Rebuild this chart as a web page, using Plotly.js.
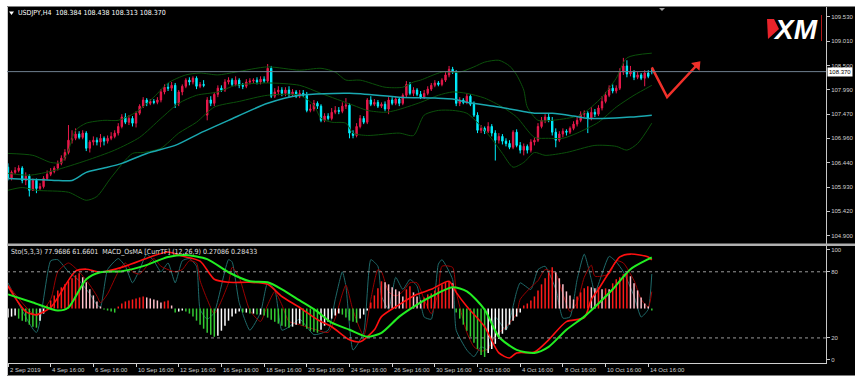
<!DOCTYPE html>
<html><head><meta charset="utf-8">
<script src="https://cdn.plot.ly/plotly-3.0.1.min.js"></script>
<style>html,body{margin:0;padding:0;background:#fff;}#chart{width:861px;height:385px;}</style>
</head><body><div id="chart"></div>
<script>
// ---------------- DATA ----------------
const symbolTitle = "\u00a0USDJPY,H4\u00a0\u00a0108.384 108.438 108.313 108.370";
const subTitle = "Sto(5,3,3) 77.9686 61.6601\u00a0\u00a0MACD_OsMA [CurrTF] (12,26,9) 0.27086 0.28433";
const timeLabels = ['2 Sep 2019','4 Sep 16:00','6 Sep 16:00','10 Sep 16:00','12 Sep 16:00','16 Sep 16:00','18 Sep 16:00','20 Sep 16:00','24 Sep 16:00','26 Sep 16:00','30 Sep 16:00','2 Oct 16:00','4 Oct 16:00','8 Oct 16:00','10 Oct 16:00','14 Oct 16:00'];
const priceTicks = [104.900,105.420,105.930,106.440,106.960,107.470,107.990,108.500,109.010,109.530];
const oscTicks = [0,20,80,100];

const openP = [106.35,106.11,106.24,106.28,106.33,106.07,106.16,105.86,106.07,105.90,
105.94,106.11,106.20,106.26,106.33,106.43,106.54,106.66,106.92,106.96,
107.05,106.98,107.07,106.75,106.88,106.92,106.88,106.96,106.90,106.96,
107.00,107.07,107.21,107.41,107.30,107.38,107.28,107.49,107.64,107.77,
107.70,107.74,107.72,107.77,107.94,108.04,108.02,108.08,107.70,107.94,
108.06,108.19,108.15,108.23,108.06,108.10,107.45,107.77,107.70,107.89,
108.02,107.98,108.15,108.19,108.10,108.19,108.08,108.06,108.15,108.17,
108.19,108.15,108.21,108.17,108.44,107.85,107.94,107.98,107.91,107.98,
107.89,107.94,107.85,107.91,107.87,107.55,107.58,107.70,107.64,107.34,
107.43,107.38,107.51,107.55,107.53,107.64,107.66,107.07,107.02,107.21,
107.38,107.30,107.77,107.68,107.72,107.64,107.68,107.58,107.77,107.70,
107.79,107.70,107.87,108.10,107.91,107.98,107.89,107.83,107.91,108.00,
108.08,108.13,108.10,108.19,108.30,108.42,108.36,107.70,107.77,107.72,
107.85,107.68,107.45,107.13,107.17,107.11,107.21,107.07,106.92,107.00,
106.90,106.85,106.77,107.09,106.81,106.71,106.79,106.71,106.88,106.92,
107.21,107.34,107.41,107.34,107.09,106.92,107.05,107.11,107.09,107.17,
107.26,107.34,107.47,107.49,107.38,107.51,107.47,107.60,107.74,107.87,
108.02,107.96,108.02,108.36,108.49,108.32,108.36,108.25,108.30,108.23,
108.34,108.384];
const highP = [106.43,106.28,106.35,106.39,106.37,106.24,106.20,106.11,106.11,106.01,
106.16,106.28,106.33,106.37,106.49,106.60,106.73,107.24,107.13,107.17,
107.11,107.13,107.11,106.92,107.00,106.98,107.05,107.00,107.02,107.09,
107.13,107.28,107.47,107.49,107.45,107.43,107.53,107.68,107.83,107.81,
107.79,107.79,107.83,108.00,108.10,108.13,108.15,108.13,107.98,108.10,
108.23,108.25,108.27,108.27,108.15,108.19,107.83,107.85,107.94,108.08,
108.08,108.21,108.25,108.23,108.27,108.23,108.13,108.21,108.23,108.23,
108.25,108.27,108.27,108.53,108.49,108.02,108.06,108.04,108.04,108.06,
108.00,107.98,107.98,107.98,107.94,107.68,107.77,107.74,107.68,107.49,
107.49,107.60,107.64,107.62,107.72,107.81,107.70,107.13,107.28,107.45,
107.43,107.81,107.85,107.79,107.77,107.72,107.74,107.83,107.83,107.85,
107.83,107.91,108.17,108.15,108.04,108.02,107.96,107.98,108.06,108.13,
108.19,108.17,108.23,108.36,108.49,108.47,108.40,107.83,107.81,107.91,
107.89,107.74,107.51,107.24,107.21,107.30,107.26,107.13,107.07,107.05,
106.96,106.92,107.13,107.15,106.88,106.85,106.83,106.94,106.98,107.28,
107.41,107.47,107.49,107.41,107.17,107.11,107.17,107.15,107.21,107.32,
107.41,107.53,107.55,107.53,107.62,107.58,107.66,107.85,107.94,108.08,
108.10,108.08,108.44,108.66,108.61,108.49,108.40,108.36,108.34,108.40,
108.40,108.438];
const lowP = [106.07,106.07,106.20,106.24,106.01,105.97,105.73,105.86,105.80,105.86,
105.90,106.07,106.16,106.22,106.28,106.39,106.49,106.62,106.85,106.92,
106.94,106.94,106.69,106.66,106.81,106.81,106.77,106.81,106.85,106.92,
106.96,107.02,107.17,107.26,107.24,107.21,107.19,107.45,107.60,107.64,
107.66,107.68,107.68,107.72,107.89,107.96,107.96,107.60,107.64,107.87,
108.02,108.08,108.10,108.00,108.02,108.04,107.34,107.64,107.64,107.83,
107.94,107.94,108.10,108.06,108.06,108.02,108.00,108.02,108.10,108.13,
108.10,108.10,108.13,108.13,107.81,107.81,107.87,107.85,107.85,107.83,
107.85,107.81,107.81,107.83,107.51,107.51,107.53,107.58,107.30,107.30,
107.34,107.34,107.47,107.47,107.49,107.58,106.96,106.96,106.98,107.17,
107.26,107.26,107.64,107.64,107.60,107.60,107.53,107.47,107.66,107.66,
107.64,107.66,107.83,107.87,107.85,107.85,107.79,107.79,107.87,107.96,
108.04,108.06,108.06,108.15,108.25,108.32,107.64,107.64,107.68,107.68,
107.64,107.41,107.07,107.07,107.05,107.07,107.00,106.49,106.85,106.83,
106.79,106.73,106.73,106.77,106.64,106.60,106.64,106.66,106.81,106.88,
107.17,107.28,107.30,107.02,106.77,106.88,106.98,107.02,107.05,107.13,
107.21,107.30,107.41,107.07,107.34,107.41,107.43,107.55,107.70,107.83,
107.91,107.91,107.98,108.30,108.25,108.27,108.19,108.21,108.19,108.06,
108.23,108.313];
const closeP = [106.11,106.24,106.28,106.33,106.07,106.16,105.86,106.07,105.90,105.94,
106.11,106.20,106.26,106.33,106.43,106.54,106.66,106.92,106.96,107.05,
106.98,107.07,106.75,106.88,106.92,106.88,106.96,106.90,106.96,107.00,
107.07,107.21,107.41,107.30,107.38,107.28,107.49,107.64,107.77,107.70,
107.74,107.72,107.77,107.94,108.04,108.02,108.08,107.70,107.94,108.06,
108.19,108.15,108.23,108.06,108.10,108.08,107.77,107.70,107.89,108.02,
107.98,108.15,108.19,108.10,108.19,108.08,108.06,108.15,108.17,108.19,
108.15,108.21,108.17,108.44,107.85,107.94,107.98,107.91,107.98,107.89,
107.94,107.85,107.91,107.87,107.55,107.58,107.70,107.64,107.34,107.43,
107.38,107.51,107.55,107.53,107.64,107.66,107.07,107.02,107.21,107.38,
107.30,107.77,107.68,107.72,107.64,107.68,107.58,107.77,107.70,107.79,
107.70,107.87,108.10,107.91,107.98,107.89,107.83,107.91,108.00,108.08,
108.13,108.10,108.19,108.30,108.42,108.36,107.70,107.77,107.72,107.85,
107.68,107.45,107.13,107.17,107.11,107.21,107.07,106.92,107.00,106.90,
106.85,106.77,107.09,106.81,106.71,106.79,106.71,106.88,106.92,107.21,
107.34,107.41,107.34,107.09,106.92,107.05,107.11,107.09,107.17,107.26,
107.34,107.47,107.49,107.38,107.51,107.47,107.60,107.74,107.87,108.02,
107.96,108.02,108.36,108.49,108.32,108.36,108.25,108.30,108.23,108.34,
108.27,108.370];

// Moving average (cyan) and Bollinger bands (sampled at bar indices)
const maX = [0,6,13,18,22,27,32,39,47,54,62,73,82,96,110,120,125,129,138,148,153,159,163,167,175,181];
const maV = [106.11,106.09,106.07,106.07,106.24,106.33,106.43,106.64,106.81,107.07,107.34,107.70,107.87,107.91,107.83,107.81,107.79,107.72,107.62,107.49,107.49,107.43,107.38,107.38,107.41,107.45];
const bbUpX = [0,7,12,15,17,19,22,27,31,36,41,45,50,54,59,64,73,82,88,92,95,99,106,111,114,116,122,127,131,134,138,141,143,145,146,149,153,157,161,167,171,174,181];
const bbUpV = [106.64,106.60,106.45,106.45,106.71,107.13,107.28,107.34,107.34,107.51,107.83,108.13,108.30,108.34,108.30,108.36,108.47,108.40,108.44,108.36,108.19,108.19,108.04,108.04,108.15,108.19,108.36,108.36,108.47,108.57,108.61,108.49,108.30,107.98,107.62,107.34,107.34,107.38,107.45,107.83,108.23,108.66,108.76];
const bbMidX = [0,6,13,22,30,37,43,48,53,59,64,73,82,88,97,101,106,109,116,121,125,129,134,139,143,148,152,156,160,166,171,176,181];
const bbMidV = [106.22,106.18,106.28,106.49,106.71,106.98,107.38,107.70,107.87,107.94,108.08,108.13,108.08,107.91,107.66,107.55,107.51,107.55,107.72,107.87,107.94,107.91,107.81,107.62,107.41,106.98,106.96,106.96,107.07,107.30,107.62,107.87,108.08];
const bbLoX = [0,4,8,17,22,25,29,35,38,43,48,53,58,65,73,82,86,88,91,95,97,101,110,114,117,121,125,129,134,137,139,142,145,148,151,157,165,171,174,177,181];
const bbLoV = [105.86,105.92,105.86,105.82,105.65,105.73,106.13,106.64,106.66,106.75,107.07,107.30,107.62,107.74,107.87,107.87,107.66,107.38,107.30,107.28,107.07,107.02,107.07,107.02,107.45,107.55,107.55,107.49,107.13,106.85,106.64,106.35,106.45,106.66,106.60,106.66,106.81,106.79,106.71,106.85,107.28];

// Forecast arrow (bar index, price)
const arrowX = [181,185.3,193.7];
const arrowP = [108.46,107.83,108.51];

// Stochastic (5,3,3)
const stoX = [0,8,12,14,17,20,23,25,26,28,31,33,35,37,39,41,43,45,47,49,51,53,54,56,58,62,63,65,68,71,73,75,77,79,82,86,90,92,94,95,97,100,102,104,105,107,109,111,113,115,117,119,121,122,125,126,129,131,133,135,137,140,143,144,147,149,151,154,156,158,160,162,164,165,169,171,173,176,178,180,181];
const stoMain = [70,25,90,91,80,72,60,50,48,82,92,85,70,82,96,90,80,88,70,90,92,85,46,37,43,91,89,52,27,43,70,64,27,30,37,23,27,55,80,67,9,25,91,85,58,46,75,64,73,67,39,37,87,91,73,27,9,3,12,9,39,27,62,70,64,82,85,64,38,39,73,96,73,61,94,89,80,58,39,46,78];
const stoSig = [68,40,55,80,88,80,68,58,52,60,80,88,80,78,85,92,85,82,80,82,90,88,72,55,42,70,84,75,45,35,50,62,50,35,32,28,25,38,60,68,45,22,55,82,80,62,58,62,70,70,55,42,62,85,84,62,25,12,8,10,22,30,42,55,66,72,82,78,60,44,52,75,86,76,78,90,88,72,55,48,62];

// MACD OsMA (12,26,9)
const macdX = [0,5,8,12,19,22,26,33,40,45,49,54,58,62,68,73,77,82,87,91,96,99,103,105,110,115,119,124,126,129,134,138,141,143,148,152,157,162,164,166,169,172,175,180,181];
const macdMain = [0.124,-0.017,-0.034,0.006,0.208,0.219,0.202,0.236,0.287,0.315,0.292,0.264,0.163,0.146,0.146,0.135,0.067,0.006,-0.062,-0.101,-0.174,-0.185,-0.118,-0.045,0.022,0.079,0.107,0.152,0.090,0.011,-0.101,-0.247,-0.275,-0.247,-0.242,-0.174,-0.073,-0.051,0.051,0.107,0.202,0.287,0.303,0.287,0.271];
const sigX = [0,7,14,17,22,26,32,38,45,50,56,62,68,73,77,82,87,91,96,101,105,110,115,119,125,129,134,138,143,148,152,157,162,166,170,175,180,181];
const macdSig = [0.079,0.034,-0.011,0.006,0.163,0.202,0.208,0.236,0.287,0.298,0.275,0.202,0.152,0.146,0.107,0.045,-0.017,-0.079,-0.118,-0.157,-0.135,-0.045,0.022,0.067,0.118,0.096,-0.006,-0.157,-0.230,-0.247,-0.213,-0.118,-0.045,0.028,0.107,0.219,0.275,0.284];
const osma = [-0.009,-0.008,-0.007,-0.010,-0.012,-0.013,-0.016,-0.018,-0.019,-0.012,
-0.005,0.003,0.008,0.013,0.018,0.021,0.024,0.027,0.030,0.033,
0.035,0.031,0.026,0.019,0.013,0.007,0.002,-0.001,-0.002,-0.003,
-0.004,0.002,0.005,0.007,0.008,0.009,0.010,0.011,0.012,0.011,
0.010,0.009,0.008,0.006,0.007,0.008,0.003,-0.004,-0.003,-0.002,
-0.003,-0.005,-0.008,-0.012,-0.016,-0.020,-0.024,-0.026,-0.028,-0.027,
-0.022,-0.017,-0.012,-0.008,-0.005,-0.003,-0.004,-0.004,-0.005,-0.005,
-0.006,-0.006,-0.007,-0.009,-0.011,-0.013,-0.015,-0.017,-0.018,-0.019,
-0.018,-0.016,-0.015,-0.017,-0.020,-0.022,-0.023,-0.024,-0.021,-0.017,
-0.013,-0.010,-0.007,-0.005,-0.006,-0.009,-0.012,-0.013,-0.014,-0.010,
-0.006,-0.002,0.006,0.013,0.020,0.027,0.026,0.024,0.021,0.019,
0.017,0.012,0.019,0.022,0.016,0.012,0.008,0.011,0.014,0.015,
0.018,0.021,0.024,0.026,0.027,0.025,-0.004,-0.010,-0.016,-0.022,
-0.028,-0.034,-0.040,-0.046,-0.048,-0.044,-0.040,-0.035,-0.030,-0.025,
-0.021,-0.016,-0.012,-0.008,-0.004,0.003,0.005,0.008,0.012,0.018,
0.024,0.030,0.036,0.041,0.036,0.030,0.024,0.017,0.013,0.009,
0.012,0.016,0.020,0.022,0.021,0.020,0.021,0.019,0.020,0.019,
0.025,0.029,0.031,0.034,0.035,0.032,0.025,0.018,0.011,0.005,
0.002,-0.002];

// ---------------- BUILD ----------------
const W = 861, H = 385;
const px = x => x / W, py = y => 1 - y / H;
const N = closeP.length;
const idx = Array.from({length: N}, (_, i) => i);
const tickIdx = timeLabels.map((_, k) => k * 12);
const lastClose = closeP[N - 1];
const FONT = "'DejaVu Sans Condensed', 'Liberation Sans', sans-serif";
const AXFONT = "'Liberation Sans', Arial, sans-serif";
const TXT = '#d0d0d0';

const osmaColors = osma.map((v, i) => {
  const prev = i > 0 ? osma[i - 1] : v;
  if (v >= 0) return v >= prev ? '#ff1a1a' : '#ffc0cb';
  return v < prev ? '#33cc33' : '#ffffff';
});

const XR = [-0.28, 229.97];
const traces = [
  {type:'candlestick', x:idx, open:openP, high:highP, low:lowP, close:closeP,
   increasing:{line:{color:'#e8194b', width:1}, fillcolor:'#e8194b'},
   decreasing:{line:{color:'#00f0ff', width:1}, fillcolor:'#00f0ff'},
   whiskerwidth:0, xaxis:'x', yaxis:'y', hoverinfo:'skip'},
  {type:'scatter', mode:'lines', x:bbUpX, y:bbUpV, line:{color:'#0b500b', width:1, shape:'spline', smoothing:0.7}, xaxis:'x', yaxis:'y'},
  {type:'scatter', mode:'lines', x:bbMidX, y:bbMidV, line:{color:'#0b500b', width:1, shape:'spline', smoothing:0.7}, xaxis:'x', yaxis:'y'},
  {type:'scatter', mode:'lines', x:bbLoX, y:bbLoV, line:{color:'#0b500b', width:1, shape:'spline', smoothing:0.7}, xaxis:'x', yaxis:'y'},
  {type:'scatter', mode:'lines', x:maX, y:maV, line:{color:'#1aa8b0', width:1.5, shape:'spline', smoothing:0.7}, xaxis:'x', yaxis:'y'},
  {type:'scatter', mode:'lines', x:arrowX, y:arrowP, line:{color:'#f0302a', width:2.5}, xaxis:'x', yaxis:'y'},
  {type:'scatter', mode:'markers', x:[arrowX[2]], y:[arrowP[2]], marker:{symbol:'triangle-up', angle:43, size:10, color:'#f0302a'}, xaxis:'x', yaxis:'y'},
  // sub window
  {type:'scatter', mode:'lines', x:stoX, y:stoMain, line:{color:'#1f6a6a', width:1, shape:'spline', smoothing:0.5}, xaxis:'x2', yaxis:'y2'},
  {type:'scatter', mode:'lines', x:stoX, y:stoSig, line:{color:'#9a0000', width:1, shape:'spline', smoothing:0.6}, xaxis:'x2', yaxis:'y2'},
  {type:'bar', x:idx, y:osma, width:0.42, marker:{color:osmaColors, line:{width:0}}, xaxis:'x2', yaxis:'y3'},
  {type:'scatter', mode:'lines', x:macdX, y:macdMain, line:{color:'#ff1010', width:1.6, shape:'spline', smoothing:0.7}, xaxis:'x2', yaxis:'y4'},
  {type:'scatter', mode:'lines', x:sigX, y:macdSig, line:{color:'#22ee22', width:2, shape:'spline', smoothing:0.7}, xaxis:'x2', yaxis:'y4'}
];

const axisFont = {family: AXFONT, size: 6, color: TXT};
const shapes = [
  {type:'rect', xref:'paper', yref:'paper', x0:px(7), x1:px(855), y0:py(375.5), y1:py(7), fillcolor:'#000', line:{width:0}, layer:'below'},
  {type:'line', xref:'paper', yref:'paper', x0:px(7), x1:px(855), y0:py(6.5), y1:py(6.5), line:{color:'#808080', width:1}},
  {type:'line', xref:'paper', yref:'paper', x0:px(7.5), x1:px(7.5), y0:py(7), y1:py(375), line:{color:'#c8c8c8', width:1}},
  {type:'rect', xref:'paper', yref:'paper', x0:px(7), x1:px(855), y0:py(246), y1:py(243.5), fillcolor:'#b0b0b0', line:{width:0}},
  {type:'line', xref:'paper', yref:'y', x0:px(7), x1:px(826), y0:lastClose, y1:lastClose, line:{color:'#6f7f8f', width:1}},
  {type:'line', xref:'paper', yref:'y2', x0:px(7), x1:px(826), y0:20, y1:20, line:{color:'#9a9a9a', width:1, dash:'dot'}},
  {type:'line', xref:'paper', yref:'y2', x0:px(7), x1:px(826), y0:80, y1:80, line:{color:'#9a9a9a', width:1, dash:'dot'}},
  {type:'path', xref:'paper', yref:'paper', path:`M${px(659)},${py(8)} L${px(665)},${py(8)} L${px(662)},${py(11)} Z`, fillcolor:'#a0a0a0', line:{width:0}},
  {type:'path', xref:'paper', yref:'paper', path:`M${px(9)},${py(11.5)} L${px(14)},${py(11.5)} L${px(11.5)},${py(15)} Z`, fillcolor:'#ffffff', line:{width:0}},
  {type:'path', xref:'paper', yref:'paper', path:`M${px(767)},${py(19)} L${px(774)},${py(19)} L${px(779)},${py(29)} L${px(768)},${py(39)} Z`, fillcolor:'#e8232b', line:{width:0}},
  {type:'line', xref:'paper', yref:'paper', x0:px(821.5), x1:px(821.5), y0:py(15), y1:py(41), line:{color:'#b01818', width:1}}
];

const annotations = [
  {xref:'paper', yref:'paper', x:px(14), y:py(13.5), xanchor:'left', yanchor:'middle', showarrow:false, text:symbolTitle, font:{family:FONT, size:7, color:'#ffffff'}},
  {xref:'paper', yref:'paper', x:px(9), y:py(251.5), xanchor:'left', yanchor:'middle', showarrow:false, text:subTitle, font:{family:FONT, size:7, color:'#e0e0e0'}},
  {xref:'paper', yref:'paper', x:px(771), y:py(29), xanchor:'left', yanchor:'middle', showarrow:false, text:'<b><i>XM</i></b>', font:{family:"'Liberation Sans', Arial, sans-serif", size:28, color:'#ffffff'}},
  {xref:'paper', yref:'y', x:px(826.5), y:lastClose, xanchor:'left', yanchor:'middle', showarrow:false, text:lastClose.toFixed(3), bgcolor:'#ffffff', borderpad:1, font:{family:AXFONT, size:6, color:'#000000'}}
].concat(timeLabels.map((t, k) => ({
  xref:'x2', yref:'paper', x:tickIdx[k] - 0.1, y:py(369.5), xanchor:'left', yanchor:'middle', showarrow:false, text:t, font:axisFont
})));

const layout = {
  width: W, height: H, margin:{l:0, r:0, t:0, b:0},
  paper_bgcolor:'#ffffff', plot_bgcolor:'rgba(0,0,0,0)',
  showlegend:false, hovermode:false, boxgap:0.45,
  font:{family:AXFONT, size:6, color:TXT},
  xaxis:{domain:[px(7), px(826)], range:XR, anchor:'y', visible:false, rangeslider:{visible:false}, fixedrange:true},
  yaxis:{domain:[py(243.5), py(7)], range:[104.736, 109.736], side:'right', anchor:'x',
         tickvals:priceTicks, ticktext:priceTicks.map(v => v.toFixed(3)), ticks:'outside', ticklen:3, tickcolor:'#c8c8c8',
         tickfont:axisFont, showgrid:false, zeroline:false, showline:true, linecolor:'#c8c8c8', linewidth:1, fixedrange:true},
  xaxis2:{domain:[px(7), px(826)], range:XR, anchor:'y2', showgrid:false, zeroline:false, showline:true, linecolor:'#d0d0d0', linewidth:1,
          tickvals:tickIdx, ticktext:tickIdx.map(() => ''), ticks:'outside', ticklen:3, tickcolor:'#d0d0d0', showticklabels:false, fixedrange:true},
  yaxis2:{domain:[py(363), py(246)], range:[-2.74, 103.4], side:'right', anchor:'x2',
          tickvals:oscTicks, ticktext:oscTicks.map(String), ticks:'outside', ticklen:3, tickcolor:'#c8c8c8',
          tickfont:axisFont, showgrid:false, zeroline:false, showline:true, linecolor:'#c8c8c8', linewidth:1, fixedrange:true},
  yaxis3:{overlaying:'y2', anchor:'x2', range:[-0.054, 0.062], visible:false, fixedrange:true},
  yaxis4:{overlaying:'y2', anchor:'x2', range:[-0.303, 0.348], visible:false, fixedrange:true},
  shapes: shapes, annotations: annotations
};

Plotly.newPlot('chart', traces, layout, {staticPlot:true, displayModeBar:false});
</script>
</body></html>
